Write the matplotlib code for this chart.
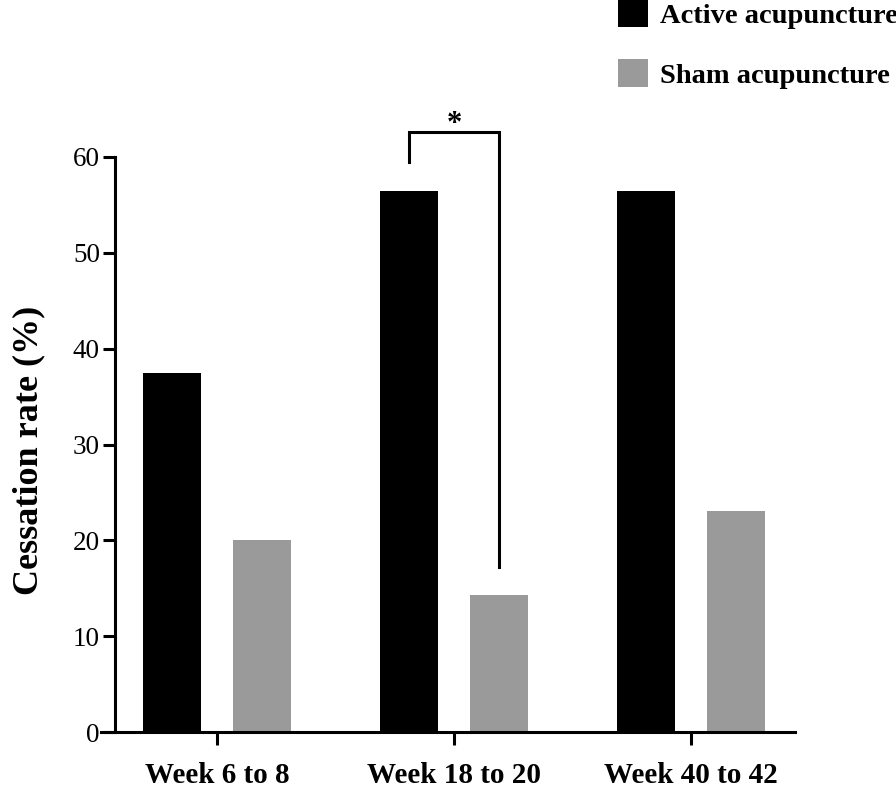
import matplotlib
matplotlib.use("Agg")
import matplotlib.pyplot as plt
import numpy as np

categories = ["Week 6 to 8", "Week 18 to 20", "Week 40 to 42"]
active = [37.5, 56.5, 56.5]
sham = [20.0, 14.3, 23.1]
series_names = ["Active acupuncture", "Sham acupuncture"]
yticks = [0, 10, 20, 30, 40, 50, 60]

plt.rcParams['font.family'] = ['Liberation Serif', 'DejaVu Serif']

W, H = 896, 788
fig = plt.figure(figsize=(W/100, H/100), dpi=100)
ax = fig.add_axes([101/W, (H-732)/H, (795-101)/W, (732-157)/H])

x = np.arange(len(categories))
bw = 0.245
off = 0.189
ax.bar(x - off, active, width=bw, color='#000000', label=series_names[0])
ax.bar(x + off, sham, width=bw, color='#9a9a9a', label=series_names[1])

ax.set_xlim(-0.49, 2.44)
ax.set_ylim(0, 60)
ax.spines['top'].set_visible(False)
ax.spines['right'].set_visible(False)
ax.spines['left'].set_position(('data', -0.43))
ax.spines['left'].set_linewidth(2.2)
ax.spines['bottom'].set_linewidth(2.2)

ax.set_yticks(yticks)
ax.set_yticklabels([str(v) for v in yticks], fontsize=19.5)
ax.tick_params(axis='y', length=9, width=2.2, pad=2)
ax.set_xticks(x)
ax.set_xticklabels(categories, fontsize=21, fontweight='bold')
ax.tick_params(axis='x', length=9, width=2.2, pad=12.5)

ax.set_ylabel("Cessation rate (%)", fontsize=26, fontweight='bold')
ax.yaxis.set_label_coords(-0.08, 0.489)

# significance bracket
xb0 = x[1] - off
xb1 = x[1] + off
ytop = 62.6
ax.plot([xb0, xb0, xb1, xb1], [59.5, ytop, ytop, 17.2], color='black', lw=2.2,
        clip_on=False, solid_joinstyle='miter')
ax.text((xb0 + xb1) / 2, ytop - 0.7, "*", ha='center', va='bottom', fontsize=22,
        fontweight='bold', clip_on=False)

# legend
handles, labels = ax.get_legend_handles_labels()
leg = fig.legend(handles, labels, loc='upper left', bbox_to_anchor=(618/W, 1.0),
                 frameon=False, prop={'weight': 'bold', 'size': 20.5},
                 handlelength=1.05, handleheight=1.1, handletextpad=0.42,
                 labelspacing=1.05, borderaxespad=0, borderpad=0)

fig.savefig("out.png", dpi=100)
